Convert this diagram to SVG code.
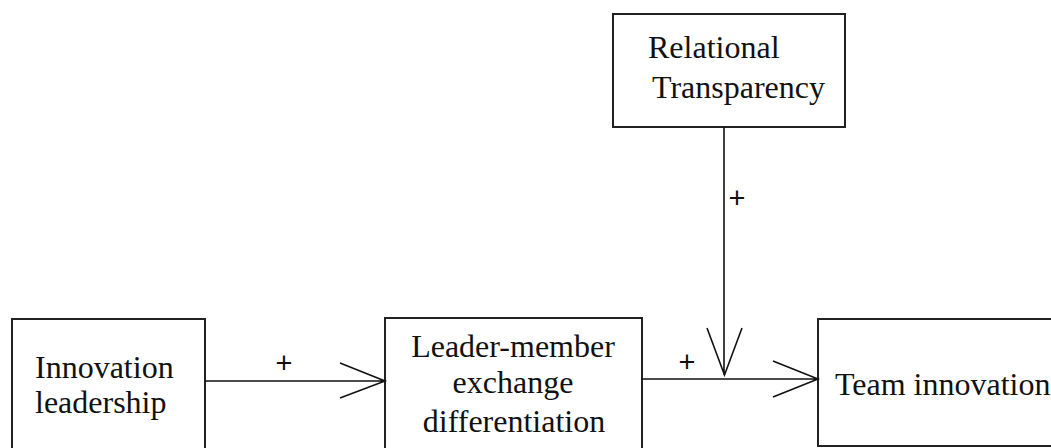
<svg xmlns="http://www.w3.org/2000/svg" width="1051" height="448" viewBox="0 0 1051 448">
<style>
.box{fill:#fff;stroke:#222;stroke-width:2}
.t{font-family:"Liberation Serif","Times New Roman",serif;font-size:32px;fill:#111}
.p{font-family:"Liberation Sans",Arial,sans-serif;font-size:29px;fill:#111}
.ln{stroke:#111;stroke-width:1.6;fill:none}
</style>
<rect width="1051" height="448" fill="#fff"/>
<g id="relational">
<rect class="box" x="613" y="14" width="232" height="113"/>
<text class="t" x="648" y="58">Relational</text>
<text class="t" x="652" y="98">Transparency</text>
</g>
<g id="innovation-leadership">
<rect class="box" x="12" y="319" width="193" height="140"/>
<text class="t" x="35" y="378">Innovation</text>
<text class="t" x="35" y="413">leadership</text>
</g>
<g id="lmx">
<rect class="box" x="385" y="318" width="257" height="140"/>
<text class="t" x="513" y="357" text-anchor="middle">Leader-member</text>
<text class="t" x="513" y="393" text-anchor="middle">exchange</text>
<text class="t" x="514" y="432" text-anchor="middle">differentiation</text>
</g>
<g id="team-innovation">
<rect class="box" x="818" y="319" width="250" height="127"/>
<text class="t" x="835" y="395">Team innovation</text>
</g>
<g id="connectors">
<path class="ln" d="M205 381H385M340 363L385 381L340 398"/>
<path class="ln" d="M642 379H818M773 361L818 379L773 397"/>
<path class="ln" d="M724 127V375M707 328L724.5 375L742 328"/>
<text class="p" x="284" y="373" text-anchor="middle">+</text>
<text class="p" x="687" y="372" text-anchor="middle">+</text>
<text class="p" x="737" y="208" text-anchor="middle">+</text>
</g>
</svg>
